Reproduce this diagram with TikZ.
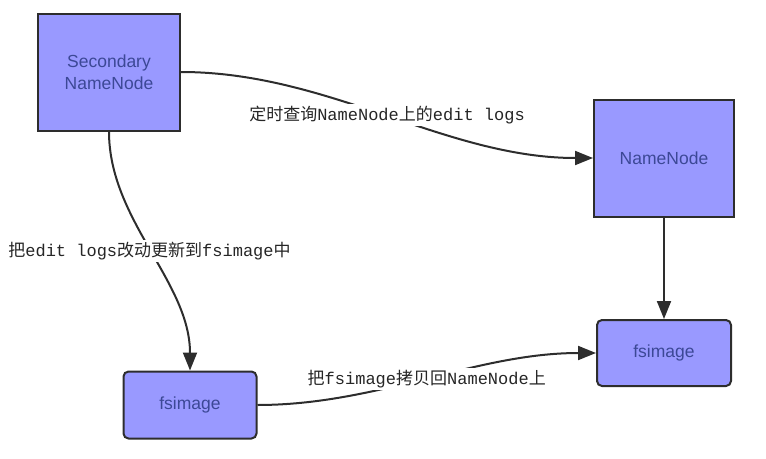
\documentclass[tikz,border=0pt]{standalone}
\usepackage{fontspec}
\setsansfont{Liberation Sans}
\setmonofont{Liberation Mono}
\newfontfamily\cjk{Noto Sans CJK SC}
\usetikzlibrary{arrows.meta}
\definecolor{boxfill}{RGB}{153,153,255}
\definecolor{boxtext}{RGB}{60,72,150}
\definecolor{linegray}{RGB}{45,45,45}

\begin{document}
\begin{tikzpicture}[x=1pt, y=-1pt,
    box/.style={draw=linegray, line width=2pt, fill=boxfill, text=boxtext,
        inner sep=0pt, align=center, font=\sffamily\fontsize{17.5}{22}\selectfont},
    link/.style={draw=linegray, line width=2pt, -{Triangle[length=18pt,width=14pt]}},
    lbl/.style={fill=white, inner sep=2pt, text=black!85, font=\fontsize{17}{20}\selectfont}]
                \useasboundingbox (0,0) rectangle (766,458);
                % Nodes
                \node[box, minimum width=142, minimum height=117] (secondary) at (109,72) {Secondary\\NameNode};
                \node[box, minimum width=140, minimum height=117] (namenode) at (664,158) {NameNode};
                \node[box, rounded corners=5pt, minimum width=134, minimum height=66] (fsright) at (664,353) {fsimage};
                \node[box, rounded corners=5pt, minimum width=133, minimum height=67] (fsleft) at (190,405) {fsimage};

                % Edges
                \draw[link] (secondary.east) to[out=0, in=180, looseness=0.9]
                    node[lbl] {{\cjk 定时查询}\texttt{NameNode}{\cjk 上的}\texttt{edit logs}} (namenode.west);
                \draw[link] (secondary.south) to[out=-90, in=90, looseness=0.9]
                    node[lbl] {{\cjk 把}\texttt{edit logs}{\cjk 改动更新到}\texttt{fsimage}{\cjk 中}} (fsleft.north);
                \draw[link] (namenode.south) -- (fsright.north);
                \draw[link] (fsleft.east) to[out=0, in=180, looseness=0.9]
                    node[lbl] {{\cjk 把}\texttt{fsimage}{\cjk 拷贝回}\texttt{NameNode}{\cjk 上}} (fsright.west);
            \end{tikzpicture}
\end{document}
